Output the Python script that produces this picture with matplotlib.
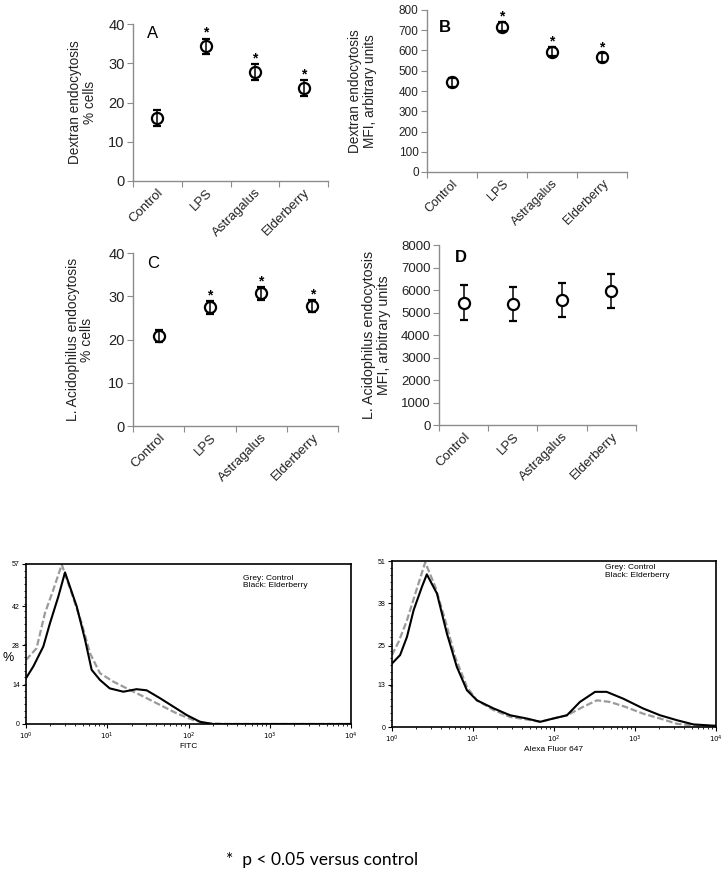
import numpy as np
import matplotlib
matplotlib.use("Agg")
import matplotlib.pyplot as plt
from matplotlib.ticker import FixedLocator, NullFormatter

plt.rcParams['font.family'] = ['Liberation Sans', 'DejaVu Sans']

# ---------------- data ----------------
categories = ["Control", "LPS", "Astragalus", "Elderberry"]

dex_pct_mean = [16.1, 34.3, 27.7, 23.7]
dex_pct_err = [2.0, 2.0, 2.0, 2.0]
dex_pct_sig = [False, True, True, True]

dex_mfi_mean = [442, 717, 594, 566]
dex_mfi_err = [20, 22, 22, 22]
dex_mfi_sig = [False, True, True, True]

lac_pct_mean = [20.8, 27.4, 30.7, 27.8]
lac_pct_err = [1.3, 1.4, 1.5, 1.4]
lac_pct_sig = [False, True, True, True]

lac_mfi_mean = [5440, 5370, 5560, 5970]
lac_mfi_err = [770, 750, 750, 750]
lac_mfi_sig = [False, False, False, False]

# Histogram (FITC) - log10 fluorescence vs % of max
fitc_ctrl_x = [0.0, 0.13, 0.233, 0.336, 0.44, 0.562, 0.685, 0.788, 0.91, 1.075, 1.28,
               1.444, 1.649, 1.854, 2.06, 2.22, 2.5, 3.0, 3.5, 4.0]
fitc_ctrl_y = [22.8, 27.0, 39.5, 47.8, 56.8, 46.6, 35.9, 25.2, 18.1, 15.1, 12.1,
               9.8, 6.8, 3.8, 1.4, 0.2, 0.0, 0.0, 0.0, 0.0]
fitc_eld_x = [0.0, 0.09, 0.213, 0.295, 0.398, 0.48, 0.624, 0.727, 0.808, 0.91, 1.03,
              1.198, 1.36, 1.485, 1.649, 1.813, 1.977, 2.14, 2.3, 2.6, 3.0, 3.5, 4.0]
fitc_eld_y = [16.3, 20.5, 27.6, 35.9, 45.4, 54.0, 41.9, 30.0, 19.3, 15.7, 12.7,
              11.5, 12.4, 12.0, 9.2, 6.2, 3.2, 0.8, 0.0, 0.0, 0.0, 0.0, 0.0]

# Histogram (Alexa Fluor 647)
alexa_ctrl_x = [0.0, 0.082, 0.185, 0.288, 0.41, 0.534, 0.657, 0.78, 0.925, 1.048, 1.254,
                1.46, 1.665, 1.83, 1.99, 2.16, 2.36, 2.53, 2.69, 2.88, 3.1, 3.31, 3.516,
                3.72, 3.97, 4.0]
alexa_ctrl_y = [22.1, 26.2, 32.8, 41.0, 50.6, 43.1, 32.8, 21.5, 12.3, 8.2, 5.2,
                3.1, 2.3, 1.6, 2.6, 3.6, 6.2, 8.2, 7.7, 6.2, 4.1, 2.6, 1.0,
                0.4, 0.3, 0.3]
alexa_eld_x = [0.0, 0.1, 0.185, 0.267, 0.37, 0.43, 0.555, 0.678, 0.8, 0.925, 1.048,
               1.254, 1.46, 1.665, 1.83, 1.99, 2.16, 2.32, 2.507, 2.65, 2.855, 3.1,
               3.31, 3.516, 3.72, 3.97, 4.0]
alexa_eld_y = [19.5, 22.1, 27.7, 35.9, 43.1, 46.9, 41.0, 28.7, 18.5, 11.3, 8.2,
               5.7, 3.6, 2.6, 1.6, 2.6, 3.6, 7.7, 10.8, 10.8, 8.7, 5.7,
               3.6, 2.1, 0.8, 0.4, 0.4]

# ---------------- figure ----------------
W, H = 727, 873
fig = plt.figure(figsize=(W / 100, H / 100), dpi=100)


def px_axes(left, top, right, bottom):
    return fig.add_axes([left / W, 1 - bottom / H, (right - left) / W, (bottom - top) / H])


SPINE = "#8c8c8c"
TXT = "#222222"


def dot_panel(ax, means, errs, sig, ymax, ystep, ylabel, letter, tick_fs, cat_fs, label_fs,
              letter_weight="normal", letter_pos=(0.07, 0.94), face="none"):
    x = np.arange(len(categories))
    ax.errorbar(x, means, yerr=errs, fmt="o", mfc=face, mec="black", mew=1.6,
                ms=8, ecolor="black", elinewidth=1.1, capsize=3, capthick=1.1, zorder=3)
    for xi, m, e, s in zip(x, means, errs, sig):
        if s:
            ax.annotate("*", (xi, m + e), xytext=(0, -1), textcoords="offset points",
                        ha="center", va="bottom", fontsize=10, fontweight="bold")
    ax.set_xlim(-0.5, len(categories) - 0.5)
    ax.set_ylim(0, ymax)
    ax.set_yticks(np.arange(0, ymax + 0.1, ystep))
    ax.xaxis.set_major_locator(FixedLocator(np.arange(-0.5, len(categories), 1.0)))
    ax.xaxis.set_major_formatter(NullFormatter())
    ax.set_xticks(x, minor=True)
    ax.set_xticklabels(categories, minor=True, rotation=45, ha="right",
                       rotation_mode="anchor", fontsize=cat_fs, color=TXT)
    ax.tick_params(axis="x", which="minor", length=0, pad=4)
    ax.tick_params(axis="x", which="major", length=4, color=SPINE, direction="out")
    ax.tick_params(axis="y", length=4, color=SPINE, labelsize=tick_fs, labelcolor=TXT, pad=2)
    for s in ("top", "right"):
        ax.spines[s].set_visible(False)
    for s in ("left", "bottom"):
        ax.spines[s].set_color(SPINE)
        ax.spines[s].set_linewidth(1.0)
    ax.set_ylabel(ylabel, fontsize=label_fs, color=TXT, linespacing=1.05)
    ax.text(letter_pos[0], letter_pos[1], letter, transform=ax.transAxes, fontsize=12,
            fontweight=letter_weight, va="center", ha="left")


axA = px_axes(133, 24, 328, 181)
dot_panel(axA, dex_pct_mean, dex_pct_err, dex_pct_sig, 40, 10,
          "Dextran endocytosis\n% cells", "A", 10.5, 9.5, 9.8)
axA.yaxis.set_label_coords(-0.185, 0.5)

axB = px_axes(427, 10, 627, 172)
dot_panel(axB, dex_mfi_mean, dex_mfi_err, dex_mfi_sig, 800, 100,
          "Dextran endocytosis\nMFI, arbitrary units", "B", 8.5, 9, 9.8, "bold",
          letter_pos=(0.06, 0.89))
axB.yaxis.set_label_coords(-0.25, 0.5)

axC = px_axes(133, 253, 338, 426)
dot_panel(axC, lac_pct_mean, lac_pct_err, lac_pct_sig, 40, 10,
          "L. Acidophilus endocytosis\n% cells", "C", 10.5, 9.5, 10)
axC.yaxis.set_label_coords(-0.19, 0.5)

axD = px_axes(439, 245, 636, 425)
dot_panel(axD, lac_mfi_mean, lac_mfi_err, lac_mfi_sig, 8000, 1000,
          "L. Acidophilus endocytosis\nMFI, arbitrary units", "D", 9.5, 9.5, 10.3, "bold",
          letter_pos=(0.08, 0.93), face="white")
axD.yaxis.set_label_coords(-0.244, 0.5)


def hist_panel(ax, cx, cy, ex, ey, ymax, yticks, xlabel, legend_xy):
    ax.plot(cx, cy, color="#9a9a9a", lw=1.6, ls=(0, (3, 1.2)), zorder=2)
    ax.plot(ex, ey, color="black", lw=1.5, zorder=3)
    ax.set_xlim(0, 4)
    ax.set_ylim(0, ymax)
    ax.set_xticks([0, 1, 2, 3, 4])
    ax.set_xticklabels([r"$10^{%d}$" % i for i in range(5)], fontsize=5)
    minor = [d + np.log10(k) for d in range(4) for k in range(2, 10)]
    ax.set_xticks(minor, minor=True)
    ax.set_yticks(yticks)
    ax.set_yticklabels([str(v) for v in yticks], fontsize=5)
    ax.yaxis.set_minor_locator(FixedLocator(np.linspace(0, ymax, 25)))
    ax.tick_params(axis="both", which="major", length=3, width=0.8, pad=1.5)
    ax.tick_params(axis="both", which="minor", length=1.5, width=0.6)
    for s in ax.spines.values():
        s.set_linewidth(1.2)
        s.set_color("black")
    ax.set_xlabel(xlabel, fontsize=6, labelpad=1)
    ax.text(legend_xy[0], legend_xy[1], "Grey: Control\nBlack: Elderberry",
            transform=ax.transAxes, fontsize=6, va="top", ha="left", linespacing=1.05)


axH1 = px_axes(26, 564, 351, 724)
hist_panel(axH1, fitc_ctrl_x, fitc_ctrl_y, fitc_eld_x, fitc_eld_y, 57,
           [0, 14, 28, 42, 57], "FITC", (0.667, 0.93))
fig.text(3 / W, 1 - 658 / H, "%", fontsize=9, ha="left", va="center")

axH2 = px_axes(392, 561, 716, 727)
hist_panel(axH2, alexa_ctrl_x, alexa_ctrl_y, alexa_eld_x, alexa_eld_y, 51,
           [0, 13, 25, 38, 51], "Alexa Fluor 647", (0.656, 0.98))

fig.text(226 / W, 1 - 860 / H, "*  p < 0.05 versus control", fontsize=12.5,
         family=["Lato", "DejaVu Sans"], ha="left", va="center")

fig.savefig("out.png", dpi=100)
